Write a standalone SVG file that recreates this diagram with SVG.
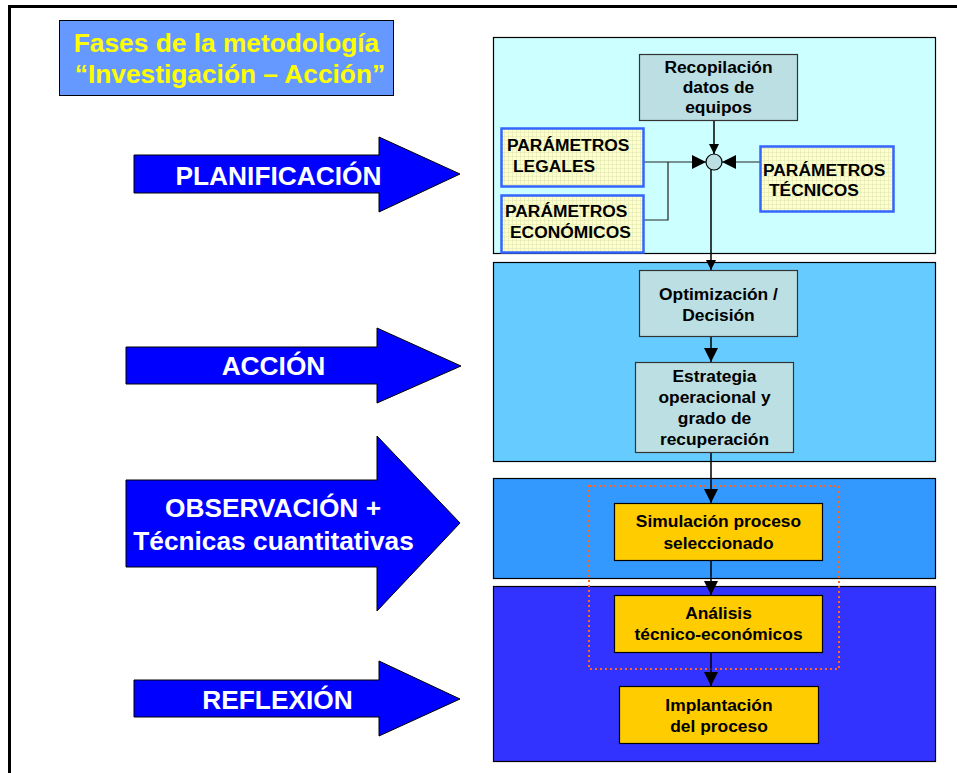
<svg xmlns="http://www.w3.org/2000/svg" width="957" height="773" viewBox="0 0 957 773">
  <defs>
    <style>
      .frame { fill: none; stroke: #000; stroke-width: 3; }
      .phase { fill: #0000FF; stroke: #000; stroke-width: 1; }
      .phase-label { font-family: "Liberation Sans", Arial, sans-serif; font-weight: bold; font-size: 26.3px; fill: #FFFFFF; text-anchor: middle; }
      .title-box { fill: #6699FF; stroke: #000; stroke-width: 1; }
      .title-text { font-family: "Liberation Sans", Arial, sans-serif; font-weight: bold; font-size: 26.3px; fill: #FFFF00; text-anchor: middle; }
      .panel { stroke: #000; stroke-width: 1.2; }
      .step { fill: #BBDFE2; stroke: #333; stroke-width: 1.2; }
      .task { fill: #FFCC00; stroke: #000; stroke-width: 1.2; }
      .param { fill: url(#grid); stroke: #3366FF; stroke-width: 2.5; }
      .label { font-family: "Liberation Sans", Arial, sans-serif; font-weight: bold; font-size: 17.4px; fill: #000; text-anchor: middle; }
      .plabel { font-family: "Liberation Sans", Arial, sans-serif; font-weight: bold; font-size: 17.4px; fill: #000; }
      .wire { fill: none; stroke: #000; stroke-width: 1.5; }
      .wire-thin { fill: none; stroke: #222; stroke-width: 1.2; }
      .focus { fill: none; stroke: #FF6622; stroke-width: 2; stroke-dasharray: 2 3; }
    </style>
    <pattern id="grid" width="4" height="4" patternUnits="userSpaceOnUse">
      <rect width="4" height="4" fill="#FFFFCC"/>
      <path d="M0 0.5H4M0.5 0V4" stroke="#E6ECB8" stroke-width="0.8"/>
    </pattern>
    <marker id="head" viewBox="0 0 10 10" refX="10" refY="5" markerWidth="10" markerHeight="10" markerUnits="userSpaceOnUse" orient="auto">
      <path d="M0 0L10 5L0 10Z" fill="#000"/>
    </marker>
    <marker id="headBig" viewBox="0 0 10 10" refX="10" refY="5" markerWidth="14" markerHeight="14" markerUnits="userSpaceOnUse" orient="auto">
      <path d="M0 0L10 5L0 10Z" fill="#000"/>
    </marker>
  </defs>

  <rect x="0" y="0" width="957" height="773" fill="#FFFFFF"/>
  <!-- page frame -->
  <rect class="frame" x="9.5" y="6.5" width="960" height="780"/>

  <!-- heading -->
  <g id="title">
    <rect class="title-box" x="59.5" y="20.5" width="334" height="75"/>
    <text class="title-text" x="226.5" y="52">Fases de la metodología</text>
    <text class="title-text" x="230" y="83">“Investigación – Acción”</text>
  </g>

  <!-- phase arrows -->
  <g id="phase-planificacion">
    <path class="phase" d="M134 155H379V137L460 174L379 212V193H134Z"/>
    <text class="phase-label" x="278.5" y="185">PLANIFICACIÓN</text>
  </g>
  <g id="phase-accion">
    <path class="phase" d="M126 347H377V328L461 366L377 403V384H126Z"/>
    <text class="phase-label" x="273.5" y="375">ACCIÓN</text>
  </g>
  <g id="phase-observacion">
    <path class="phase" d="M126 480H377V436L460 523L377 611V567H126Z"/>
    <text class="phase-label" x="273" y="517">OBSERVACIÓN +</text>
    <text class="phase-label" x="273.5" y="550">Técnicas cuantitativas</text>
  </g>
  <g id="phase-reflexion">
    <path class="phase" d="M134 680H379V661L460 699L379 736V717H134Z"/>
    <text class="phase-label" x="277.5" y="709">REFLEXIÓN</text>
  </g>

  <!-- phase panels -->
  <g id="panel-planificacion">
    <rect class="panel" x="493.5" y="37.5" width="442" height="216" fill="#CCFFFF"/>
  </g>
  <g id="panel-accion">
    <rect class="panel" x="493.5" y="262.5" width="442" height="199" fill="#66CCFF"/>
  </g>
  <g id="panel-observacion">
    <rect class="panel" x="493.5" y="478.5" width="442" height="100" fill="#3399FF"/>
  </g>
  <g id="panel-reflexion">
    <rect class="panel" x="493.5" y="586.5" width="442" height="175" fill="#3333FF"/>
  </g>

  <!-- dotted grouping around simulation and analysis -->
  <rect class="focus" x="589" y="486" width="250" height="183"/>

  <!-- connectors -->
  <g id="connectors">
    <path class="wire" d="M714 120V154" marker-end="url(#head)"/>
    <path class="wire-thin" d="M644 162H706" marker-end="url(#headBig)"/>
    <path class="wire-thin" d="M644 220H668V162"/>
    <path class="wire-thin" d="M760 162H722" marker-end="url(#headBig)"/>
    <path class="wire" d="M711 170V270" marker-end="url(#head)"/>
    <path class="wire" d="M711 337V362" marker-end="url(#headBig)"/>
    <path class="wire" d="M711 453V503" marker-end="url(#headBig)"/>
    <path class="wire" d="M711 561V595" marker-end="url(#headBig)"/>
    <path class="wire" d="M711 653V686" marker-end="url(#headBig)"/>
  </g>

  <!-- planning nodes -->
  <g id="node-recopilacion">
    <rect class="step" x="639.5" y="54.5" width="158" height="66"/>
    <text class="label" x="718.5" y="73">Recopilación</text>
    <text class="label" x="718.5" y="93">datos de</text>
    <text class="label" x="718.5" y="113">equipos</text>
  </g>
  <g id="node-union">
    <circle cx="714" cy="162" r="8" fill="#BBDFE2" stroke="#000" stroke-width="1.2"/>
  </g>
  <g id="node-legales">
    <rect class="param" x="501.5" y="128.5" width="142" height="58"/>
    <text class="plabel" x="507" y="151">PARÁMETROS</text>
    <text class="plabel" x="513" y="172">LEGALES</text>
  </g>
  <g id="node-economicos">
    <rect class="param" x="501.5" y="195.5" width="142" height="57"/>
    <text class="plabel" x="505" y="217">PARÁMETROS</text>
    <text class="plabel" x="510" y="238">ECONÓMICOS</text>
  </g>
  <g id="node-tecnicos">
    <rect class="param" x="760.5" y="146.5" width="133" height="65"/>
    <text class="plabel" x="763" y="176">PARÁMETROS</text>
    <text class="plabel" x="769" y="196">TÉCNICOS</text>
  </g>

  <!-- action nodes -->
  <g id="node-optimizacion">
    <rect class="step" x="639.5" y="270.5" width="158" height="66"/>
    <text class="label" x="718.5" y="300">Optimización /</text>
    <text class="label" x="718.5" y="321">Decisión</text>
  </g>
  <g id="node-estrategia">
    <rect class="step" x="635.5" y="362.5" width="158" height="90"/>
    <text class="label" x="714.5" y="382">Estrategia</text>
    <text class="label" x="714.5" y="403">operacional y</text>
    <text class="label" x="714.5" y="424">grado de</text>
    <text class="label" x="714.5" y="445">recuperación</text>
  </g>

  <!-- observation / reflection nodes -->
  <g id="node-simulacion">
    <rect class="task" x="614.5" y="503.5" width="208" height="57"/>
    <text class="label" x="718.5" y="527">Simulación proceso</text>
    <text class="label" x="718.5" y="549">seleccionado</text>
  </g>
  <g id="node-analisis">
    <rect class="task" x="614.5" y="595.5" width="208" height="57"/>
    <text class="label" x="718.5" y="619">Análisis</text>
    <text class="label" x="718.5" y="640">técnico-económicos</text>
  </g>
  <g id="node-implantacion">
    <rect class="task" x="619.5" y="686.5" width="199" height="57"/>
    <text class="label" x="719" y="711">Implantación</text>
    <text class="label" x="719" y="732">del proceso</text>
  </g>
</svg>
